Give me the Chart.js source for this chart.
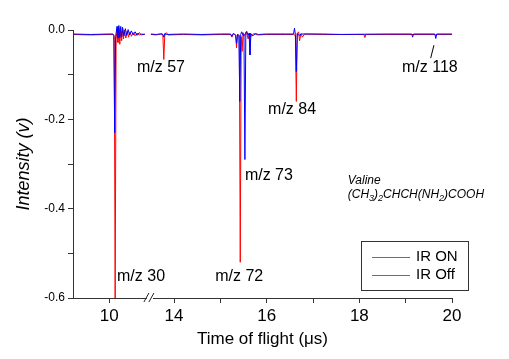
<!DOCTYPE html>
<html>
<head>
<meta charset="utf-8">
<script src="https://cdn.jsdelivr.net/npm/chart.js@4.4.1/dist/chart.umd.min.js"></script>
<style>
  html, body { margin: 0; padding: 0; background: #fff; }
</style>
</head>
<body>
<canvas id="tofChart" width="509" height="359"></canvas>
<script>
/* ── Dados (tempo em µs, intensidade em V) ── */
const seriesNames = ['IR ON', 'IR Off'];

// IR ON – traço vermelho
const irOnPoints = [
  [9.22,-0.010],[9.60,-0.011],[10.00,-0.010],[10.09,-0.010],[10.11,-0.014],[10.13,-0.600],[10.15,-0.020],
  [10.17,0.002],[10.19,-0.028],[10.21,0.004],[10.23,-0.032],[10.25,-0.002],[10.27,-0.024],[10.29,0.002],
  [10.31,-0.020],[10.33,0.000],[10.36,-0.018],[10.39,-0.003],[10.42,-0.016],[10.45,-0.004],[10.48,-0.014],
  [10.52,-0.006],[10.56,-0.013],[10.60,-0.007],[10.65,-0.011],[10.70,-0.009],[10.77,-0.010],
  [11.00,null],
  [13.50,-0.010],[13.62,-0.011],[13.70,-0.009],[13.74,-0.008],[13.76,-0.013],[13.78,-0.066],[13.80,-0.013],
  [13.83,-0.006],[13.88,-0.011],[14.20,-0.010],[14.60,-0.011],[15.00,-0.010],[15.22,-0.010],[15.25,-0.016],
  [15.28,-0.008],[15.33,-0.012],[15.35,-0.040],[15.37,-0.010],[15.41,-0.012],[15.43,-0.520],[15.45,-0.015],
  [15.47,-0.048],[15.49,-0.006],[15.52,-0.012],[15.56,-0.004],[15.60,-0.020],[15.63,-0.007],[15.67,-0.014],
  [15.72,-0.008],[15.80,-0.011],[16.00,-0.010],[16.40,-0.010],[16.58,-0.010],[16.62,-0.012],[16.64,-0.160],
  [16.66,-0.008],[16.69,-0.004],[16.71,-0.024],[16.74,-0.008],[16.77,-0.016],[16.82,-0.009],[17.20,-0.010],
  [17.60,-0.010],[18.10,-0.010],[18.12,-0.017],[18.14,-0.010],[18.60,-0.010],[19.20,-0.010],[19.63,-0.010],
  [19.65,-0.013],[19.67,-0.010],[20.00,-0.010]
];

// IR Off – traço azul
const irOffPoints = [
  [9.22,-0.009],[9.60,-0.010],[10.00,-0.009],[10.08,-0.009],[10.10,-0.012],[10.12,-0.230],[10.14,-0.015],
  [10.17,0.008],[10.19,-0.018],[10.21,0.010],[10.23,-0.017],[10.25,0.008],[10.27,-0.015],[10.29,0.006],
  [10.32,-0.013],[10.35,0.003],[10.38,-0.012],[10.41,0.001],[10.44,-0.011],[10.48,-0.002],[10.52,-0.011],
  [10.56,-0.004],[10.60,-0.012],[10.65,-0.006],[10.70,-0.011],[10.77,-0.009],
  [11.00,null],
  [13.50,-0.009],[13.62,-0.010],[13.70,-0.009],[13.76,-0.010],[13.78,-0.016],[13.80,-0.008],[13.84,-0.010],
  [14.20,-0.009],[14.60,-0.010],[15.00,-0.009],[15.22,-0.009],[15.25,-0.014],[15.28,-0.008],[15.33,-0.011],
  [15.35,-0.030],[15.37,-0.010],[15.40,-0.012],[15.42,-0.160],[15.44,-0.010],[15.46,-0.004],[15.49,-0.012],
  [15.51,-0.010],[15.53,-0.290],[15.55,-0.006],[15.57,-0.003],[15.60,-0.012],[15.62,-0.007],[15.64,-0.056],
  [15.66,-0.008],[15.70,-0.013],[15.76,-0.008],[15.82,-0.010],[16.00,-0.009],[16.40,-0.009],[16.58,-0.009],
  [16.60,0.004],[16.62,-0.010],[16.64,-0.093],[16.66,-0.008],[16.70,-0.012],[16.75,-0.009],[17.20,-0.009],
  [17.60,-0.010],[18.60,-0.009],[19.13,-0.009],[19.15,-0.016],[19.17,-0.009],[19.63,-0.009],[19.65,-0.019],
  [19.67,-0.009],[20.00,-0.009]
];

// Eixo X com quebra entre ~11 e ~13.4 µs
const xTickTimes  = [10, 14, 15, 16, 17, 18, 19, 20];
const xTickLabels = ['10', '14', '', '16', '', '18', '', '20'];
const yTickValues = [0, -0.1, -0.2, -0.3, -0.4, -0.5, -0.6];
const yTickLabels = ['0.0', '', '-0.2', '', '-0.4', '', '-0.6'];

const peakNames = ['m/z 30', 'm/z 57', 'm/z 72', 'm/z 73', 'm/z 84', 'm/z 118'];

/* ── Cores ── */
const lineColors   = ['#ff0000', '#0000ff'];
const legendColors = ['#ff3030', '#5a5aff'];

/* ── Quebra do eixo ── */
const BREAK_T = 12;      // tudo acima disso é deslocado
const SHIFT   = 2.60;    // µs removidos
const toAxis  = t => (t > BREAK_T ? t - SHIFT : t);
const fromAxis = v => (v > 10.9 ? v + SHIFT : v);

/* ── Anotações (tempo, intensidade) ── */
const peakLabelAt = [[10.17,-0.551],[10.60,-0.085],[14.89,-0.551],[15.53,-0.325],[16.03,-0.179],[18.92,-0.085]];

const FONT = "'Liberation Sans', Arial, sans-serif";
Chart.defaults.font.family = FONT;
Chart.defaults.color = '#000';

const overlay = {
  id: 'overlay',
  afterDraw(chart) {
    const { ctx, chartArea: a, scales: { x, y } } = chart;
    const px = t => x.getPixelForValue(toAxis(t));
    const py = v => y.getPixelForValue(v);
    ctx.save();

    // rótulos m/z
    ctx.fillStyle = '#000';
    ctx.font = '16px ' + FONT;
    ctx.textAlign = 'left';
    ctx.textBaseline = 'middle';
    peakNames.forEach((txt, i) => {
      const [t, v] = peakLabelAt[i];
      ctx.fillText(txt, px(t), py(v));
    });

    // seta do m/z 118
    ctx.strokeStyle = '#000';
    ctx.lineWidth = 1;
    ctx.beginPath();
    ctx.moveTo(px(19.54), py(-0.063));
    ctx.lineTo(px(19.61), py(-0.034));
    ctx.stroke();

    // Valine
    let tx = px(17.75), ty = py(-0.338);
    ctx.font = 'italic 12px ' + FONT;
    ctx.fillText('Valine', tx, ty);
    ty = py(-0.369);
    const parts = [['(CH',0],['3',1],[')',0],['2',1],['CHCH(NH',0],['2',1],[')COOH',0]];
    parts.forEach(([s, sub]) => {
      ctx.font = (sub ? 'italic 9px ' : 'italic 12px ') + FONT;
      ctx.fillText(s, tx, ty + (sub ? 4 : 0));
      tx += ctx.measureText(s).width;
    });

    // quebra do eixo "//"
    const bx = x.getPixelForValue(10.88), by = a.bottom;
    ctx.fillStyle = '#fff';
    ctx.fillRect(bx - 3, by - 1, 6, 2);
    ctx.strokeStyle = '#222';
    ctx.beginPath();
    [-3, 2].forEach(d => {
      ctx.moveTo(bx + d - 3, by + 4);
      ctx.lineTo(bx + d + 2, by - 5);
    });
    ctx.stroke();

    // legenda
    const lw = 107, lh = 49;
    const lx = a.right + 16 - lw, ly = a.bottom - 8 - lh;
    ctx.fillStyle = '#fff';
    ctx.fillRect(lx, ly, lw, lh);
    ctx.strokeStyle = '#333';
    ctx.strokeRect(lx + 0.5, ly + 0.5, lw, lh);
    ctx.font = '15px ' + FONT;
    seriesNames.forEach((name, i) => {
      const yy = ly + 16 + i * 18;
      ctx.strokeStyle = legendColors[i];
      ctx.beginPath();
      ctx.moveTo(lx + 11, yy + 0.5);
      ctx.lineTo(lx + 49, yy + 0.5);
      ctx.stroke();
      ctx.fillStyle = '#000';
      ctx.fillText(name, lx + 55, yy);
    });
    ctx.restore();
  }
};

const toXY = pts => pts.map(([t, v]) => ({ x: toAxis(t), y: v }));

new Chart(document.getElementById('tofChart'), {
  type: 'line',
  data: {
    datasets: [
      {
        label: seriesNames[0],
        data: toXY(irOnPoints),
        borderColor: lineColors[0],
        borderWidth: 1,
        order: 1,
      },
      {
        label: seriesNames[1],
        data: toXY(irOffPoints),
        borderColor: lineColors[1],
        borderWidth: 1,
        order: 0,
      }
    ]
  },
  options: {
    responsive: false,
    animation: false,
    layout: { padding: { left: 0, top: 30, right: 57, bottom: 0 } },
    elements: { point: { radius: 0 }, line: { tension: 0 } },
    datasets: { line: { clip: false, spanGaps: false } },
    plugins: { legend: { display: false }, tooltip: { enabled: false } },
    scales: {
      x: {
        type: 'linear',
        min: 9.22,
        max: toAxis(20),
        afterFit: s => { s.height = 61; },
        afterBuildTicks: s => { s.ticks = xTickTimes.map(t => ({ value: toAxis(t) })); },
        ticks: {
          autoSkip: false,
          maxRotation: 0,
          padding: 3,
          font: { size: 17 },
          color: '#000',
          callback: v => {
            const i = xTickTimes.findIndex(t => Math.abs(t - fromAxis(v)) < 0.01);
            return i >= 0 ? xTickLabels[i] : '';
          }
        },
        grid: { drawOnChartArea: false, tickLength: 5, color: '#333' },
        border: { color: '#333' },
        title: {
          display: true,
          text: 'Time of flight (\u03bcs)',
          font: { size: 17 },
          color: '#000',
          padding: { top: 0, bottom: 9 }
        }
      },
      y: {
        min: -0.6,
        max: 0,
        afterFit: s => { s.width = 73; },
        afterBuildTicks: s => { s.ticks = yTickValues.map(v => ({ value: v })); },
        ticks: {
          autoSkip: false,
          padding: 3,
          font: { size: 12 },
          color: '#000',
          callback: v => {
            const i = yTickValues.findIndex(t => Math.abs(t - v) < 1e-6);
            return i >= 0 ? yTickLabels[i] : '';
          }
        },
        grid: { drawOnChartArea: false, tickLength: 5, color: '#333' },
        border: { color: '#333' },
        title: {
          display: true,
          text: 'Intensity (v)',
          font: { size: 18, style: 'italic' },
          color: '#000',
          padding: { top: 13, bottom: 0 }
        }
      }
    }
  },
  plugins: [overlay]
});
</script>
</body>
</html>
